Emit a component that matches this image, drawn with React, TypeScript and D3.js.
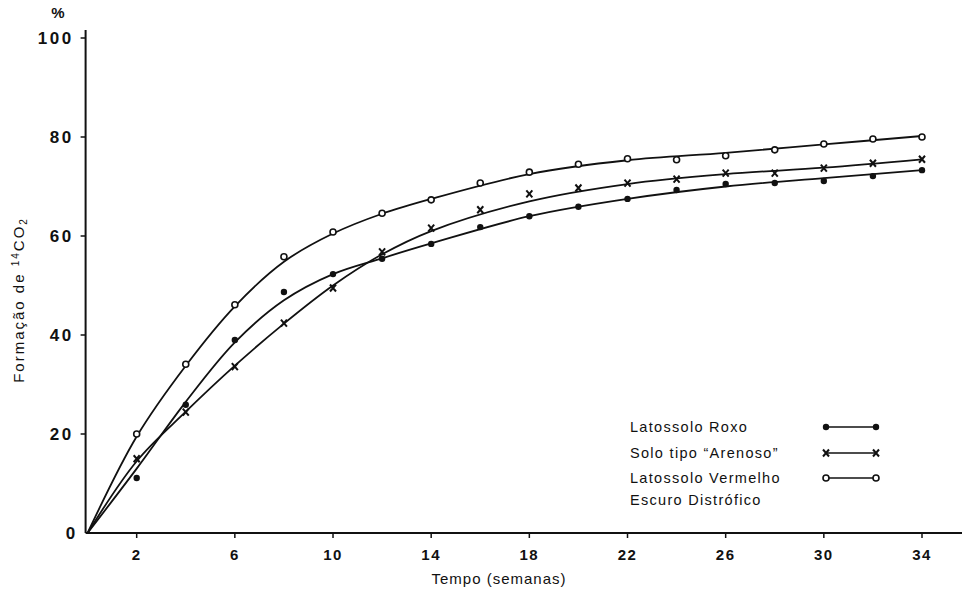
import { useEffect, useRef } from "react";
import * as d3 from "d3";

// weeks sampled
const weeks = [0, 2, 4, 6, 8, 10, 12, 14, 16, 18, 20, 22, 24, 26, 28, 30, 32, 34];

// measured points (% 14CO2)
const roxo = [0, 11.1, 25.9, 39.0, 48.7, 52.3, 55.4, 58.4, 61.8, 64.0, 65.9, 67.5, 69.3, 70.5, 70.7, 71.1, 72.1, 73.3];
const arenoso = [0, 15.0, 24.4, 33.6, 42.4, 49.5, 56.8, 61.6, 65.3, 68.5, 69.7, 70.7, 71.5, 72.7, 72.7, 73.7, 74.7, 75.5];
const vermelho = [0, 20.0, 34.1, 46.1, 55.8, 60.8, 64.6, 67.3, 70.7, 72.9, 74.5, 75.6, 75.4, 76.2, 77.4, 78.6, 79.6, 80.0];

// fitted curves
const fitWeeks = [0, 2, 4, 6, 8, 10, 12, 14, 18, 22, 26, 30, 34];
const roxoFit = [0, 13, 26.5, 38.5, 47.0, 52.3, 55.5, 58.5, 64.0, 67.5, 70.0, 71.7, 73.3];
const arenosoFit = [0, 14.5, 24.5, 33.8, 42.3, 50.0, 56.3, 61.0, 67.0, 70.5, 72.5, 73.8, 75.5];
const vermelhoFit = [0, 19.5, 33.8, 45.8, 54.8, 60.5, 64.5, 67.5, 72.5, 75.3, 76.8, 78.5, 80.2];

const xTicks = [2, 6, 10, 14, 18, 22, 26, 30, 34];
const yTicks = [0, 20, 40, 60, 80, 100];

const legendLabels = ["Latossolo Roxo", "Solo tipo \u201CArenoso\u201D", "Latossolo Vermelho"];
const legendExtra = "Escuro Distrófico";

const W = 967;
const H = 593;

export default function App() {
  const ref = useRef<SVGSVGElement>(null);

  useEffect(() => {
    const svg = d3.select(ref.current);
    svg.selectAll("*").remove();

    const x = d3.scaleLinear().domain([0, 34]).range([87.6, 922]);
    const y = d3.scaleLinear().domain([0, 100]).range([533, 38]);
    const ink = "#111";
    const font = "'Liberation Sans', Arial, sans-serif";

    // axes
    svg.append("line").attr("x1", x(0) - 2).attr("x2", 962)
      .attr("y1", y(0)).attr("y2", y(0)).attr("stroke", ink).attr("stroke-width", 2);
    svg.append("line").attr("x1", x(0) - 2).attr("x2", x(0) - 2)
      .attr("y1", y(0)).attr("y2", 30).attr("stroke", ink).attr("stroke-width", 2);

    svg.selectAll(".xt").data(xTicks).join("line")
      .attr("x1", (d) => x(d)).attr("x2", (d) => x(d))
      .attr("y1", y(0)).attr("y2", y(0) + 5).attr("stroke", ink).attr("stroke-width", 1.5);
    svg.selectAll(".xl").data(xTicks).join("text")
      .attr("x", (d) => x(d)).attr("y", 560)
      .attr("text-anchor", "middle").attr("font-family", font)
      .attr("font-weight", "bold").attr("font-size", 15).attr("letter-spacing", 1.5)
      .attr("fill", ink).text((d) => d);

    svg.selectAll(".yt").data(yTicks.slice(1)).join("line")
      .attr("x1", x(0) - 7).attr("x2", x(0) - 2)
      .attr("y1", (d) => y(d)).attr("y2", (d) => y(d)).attr("stroke", ink).attr("stroke-width", 1.5);
    svg.selectAll(".yl").data(yTicks).join("text")
      .attr("x", (d) => (d === 0 ? x(0) - 10 : x(0) - 14)).attr("y", (d) => y(d) + 6)
      .attr("text-anchor", "end").attr("font-family", font)
      .attr("font-weight", "bold").attr("font-size", 17).attr("letter-spacing", 2.5)
      .attr("fill", ink).text((d) => d);

    svg.append("text").attr("x", 58).attr("y", 18).attr("text-anchor", "middle")
      .attr("font-family", font).attr("font-weight", "bold").attr("font-size", 15)
      .attr("fill", ink).text("%");

    const yl = svg.append("text")
      .attr("transform", "translate(24,300) rotate(-90)")
      .attr("text-anchor", "middle").attr("font-family", font)
      .attr("font-size", 15).attr("letter-spacing", 2).attr("fill", ink);
    yl.append("tspan").text("Formação de ");
    yl.append("tspan").attr("font-size", 10).attr("dy", -5).text("14");
    yl.append("tspan").attr("dy", 5).text("CO");
    yl.append("tspan").attr("font-size", 10).attr("dy", 3).text("2");

    svg.append("text").attr("x", 499).attr("y", 584).attr("text-anchor", "middle")
      .attr("font-family", font).attr("font-size", 15).attr("letter-spacing", 1)
      .attr("fill", ink).text("Tempo (semanas)");

    // curves
    const line = d3.line<[number, number]>()
      .x((d) => x(d[0])).y((d) => y(d[1]))
      .curve(d3.curveCatmullRom.alpha(0.5));
    [roxoFit, arenosoFit, vermelhoFit].forEach((fit) => {
      svg.append("path")
        .attr("d", line(fitWeeks.map((w, i) => [w, fit[i]] as [number, number])))
        .attr("fill", "none").attr("stroke", ink).attr("stroke-width", 1.8);
    });

    // markers
    const dot = (g: any, cx: number, cy: number) =>
      g.append("circle").attr("cx", cx).attr("cy", cy).attr("r", 3.2).attr("fill", ink);
    const ring = (g: any, cx: number, cy: number) =>
      g.append("circle").attr("cx", cx).attr("cy", cy).attr("r", 3)
        .attr("fill", "#fff").attr("stroke", ink).attr("stroke-width", 1.6);
    const cross = (g: any, cx: number, cy: number) =>
      g.append("path")
        .attr("d", `M${cx - 3},${cy - 3.5}L${cx + 3},${cy + 3.5}M${cx - 3},${cy + 3.5}L${cx + 3},${cy - 3.5}`)
        .attr("stroke", ink).attr("stroke-width", 2);

    const marks = svg.append("g");
    weeks.forEach((w, i) => {
      if (w === 0) return;
      dot(marks, x(w), y(roxo[i]));
      cross(marks, x(w), y(arenoso[i]));
      ring(marks, x(w), y(vermelho[i]));
    });

    // legend
    const ly = [427, 453, 478];
    const markers = [dot, cross, ring];
    legendLabels.forEach((t, i) => {
      svg.append("text").attr("x", 630).attr("y", ly[i] + 5)
        .attr("font-family", font).attr("font-size", 14.5).attr("letter-spacing", 1.3)
        .attr("fill", ink).text(t);
      svg.append("line").attr("x1", 826).attr("x2", 876)
        .attr("y1", ly[i]).attr("y2", ly[i]).attr("stroke", ink).attr("stroke-width", 1.6);
      markers[i](svg, 826, ly[i]);
      markers[i](svg, 876, ly[i]);
    });
    svg.append("text").attr("x", 630).attr("y", 505)
      .attr("font-family", font).attr("font-size", 14.5).attr("letter-spacing", 1.3)
      .attr("fill", ink).text(legendExtra);
  }, []);

  return (
    <svg
      ref={ref}
      width={W}
      height={H}
      style={{ position: "absolute", left: 0, top: 0, background: "#fff" }}
    ></svg>
  );
}
